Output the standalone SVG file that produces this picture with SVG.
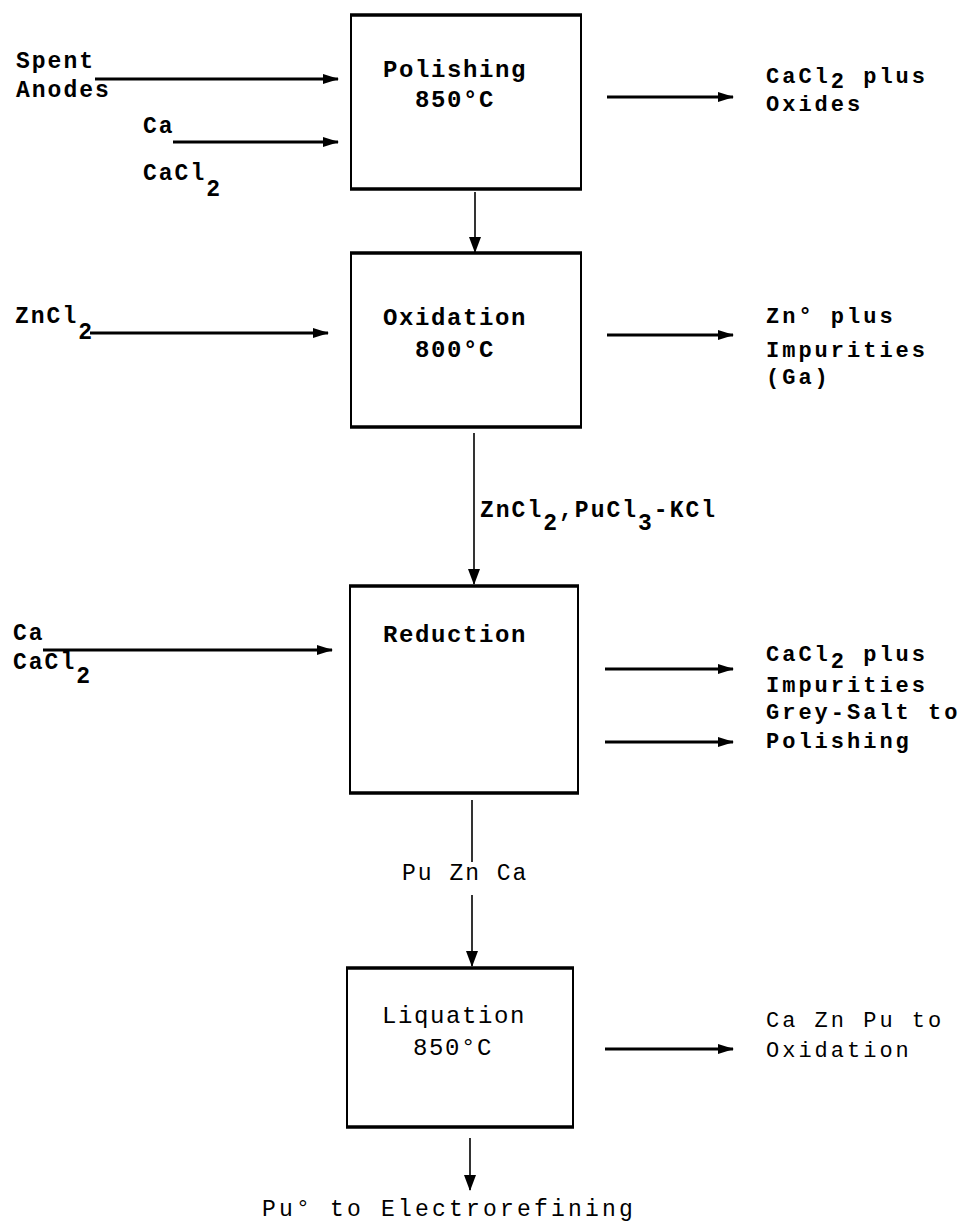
<svg xmlns="http://www.w3.org/2000/svg" width="963" height="1222" viewBox="0 0 963 1222">
<style>
.t{font-family:"Liberation Mono","DejaVu Sans Mono",monospace;font-size:23px;font-weight:bold;letter-spacing:2px;fill:#000}
.b{font-size:24px;letter-spacing:1.6px}
.r{font-size:22px;letter-spacing:3px}
.n{font-weight:normal}
.w{letter-spacing:3.2px}
.box{fill:none;stroke:#000;stroke-width:2}
.edge{stroke:#000;stroke-width:3.5}
.h{stroke:#000;stroke-width:3;fill:none}
.v{stroke:#000;stroke-width:1.6;fill:none}
</style>
<defs>
<marker id="ah" markerUnits="userSpaceOnUse" markerWidth="16" markerHeight="10" refX="15" refY="5" orient="auto"><path d="M0,0 L16,5 L0,10 z" fill="#000"/></marker>
<marker id="av" markerUnits="userSpaceOnUse" markerWidth="16" markerHeight="12" refX="15" refY="6" orient="auto"><path d="M0,0 L16,6 L0,12 z" fill="#000"/></marker>
</defs>
<rect width="963" height="1222" fill="#fff"/>

<g id="polishing">
<rect class="box" x="351" y="15" width="230" height="174"/>
<line class="edge" x1="350" y1="15" x2="582" y2="15"/>
<line class="edge" x1="350" y1="189" x2="582" y2="189"/>
<text class="t b" x="383" y="77">Polishing</text>
<text class="t b" x="415" y="107">850°C</text>
</g>

<g id="oxidation">
<rect class="box" x="351" y="253" width="230" height="174"/>
<line class="edge" x1="350" y1="253" x2="582" y2="253"/>
<line class="edge" x1="350" y1="427" x2="582" y2="427"/>
<text class="t b" x="383" y="325">Oxidation</text>
<text class="t b" x="415" y="357">800°C</text>
</g>

<g id="reduction">
<rect class="box" x="350" y="586" width="228" height="207"/>
<line class="edge" x1="349" y1="586" x2="579" y2="586"/>
<line class="edge" x1="349" y1="793" x2="579" y2="793"/>
<text class="t b" x="383" y="642">Reduction</text>
</g>

<g id="liquation">
<rect class="box" x="347" y="968" width="226" height="159"/>
<line class="edge" x1="346" y1="968" x2="574" y2="968"/>
<line class="edge" x1="346" y1="1127" x2="574" y2="1127"/>
<text class="t b n" x="382" y="1023">Liquation</text>
<text class="t b n" x="413" y="1055">850°C</text>
</g>

<g id="inputs">
<text class="t" x="16" y="68">Spent</text>
<text class="t" x="16" y="97">Anodes</text>
<text class="t" x="143" y="133">Ca</text>
<text class="t" x="143" y="180">CaCl<tspan dy="16">2</tspan></text>
<text class="t" x="15" y="323">ZnCl<tspan dy="16">2</tspan></text>
<text class="t" x="13" y="640">Ca</text>
<text class="t" x="13" y="669">CaCl<tspan dy="14">2</tspan></text>
</g>

<g id="outputs">
<text class="t r" x="766" y="83">CaCl<tspan dy="5">2</tspan><tspan dy="-5"> plus</tspan></text>
<text class="t r" x="766" y="111">Oxides</text>
<text class="t r" x="766" y="323">Zn° plus</text>
<text class="t r" x="766" y="357">Impurities</text>
<text class="t r" x="766" y="384">(Ga)</text>
<text class="t r" x="766" y="661">CaCl<tspan dy="7">2</tspan><tspan dy="-7"> plus</tspan></text>
<text class="t r" x="766" y="692">Impurities</text>
<text class="t r" x="766" y="719">Grey-Salt to</text>
<text class="t r" x="766" y="748">Polishing</text>
<text class="t r n" x="766" y="1027">Ca Zn Pu to</text>
<text class="t r n" x="766" y="1057">Oxidation</text>
<text class="t n w" x="262" y="1216">Pu° to Electrorefining</text>
</g>

<g id="stream-labels">
<text class="t" x="480" y="517">ZnCl<tspan dy="13">2</tspan><tspan dy="-13">,PuCl</tspan><tspan dy="13">3</tspan><tspan dy="-13">-KCl</tspan></text>
<text class="t n" x="402" y="880">Pu Zn Ca</text>
</g>

<g id="connectors">
<path class="h" d="M95,79 H338" marker-end="url(#ah)"/>
<path class="h" d="M173,142 H338" marker-end="url(#ah)"/>
<path class="h" d="M607,97 H733" marker-end="url(#ah)"/>
<path class="v" d="M475,192 V252" marker-end="url(#av)"/>
<path class="h" d="M90,333 H328" marker-end="url(#ah)"/>
<path class="h" d="M607,335 H733" marker-end="url(#ah)"/>
<path class="v" d="M474,433 V584" marker-end="url(#av)"/>
<path class="h" d="M43,650 H332" marker-end="url(#ah)"/>
<path class="h" d="M605,669 H733" marker-end="url(#ah)"/>
<path class="h" d="M605,742 H733" marker-end="url(#ah)"/>
<path class="v" d="M472,800 V862"/>
<path class="v" d="M472,895 V966" marker-end="url(#av)"/>
<path class="h" d="M605,1049 H733" marker-end="url(#ah)"/>
<path class="v" d="M470,1138 V1190" marker-end="url(#av)"/>
</g>
</svg>
